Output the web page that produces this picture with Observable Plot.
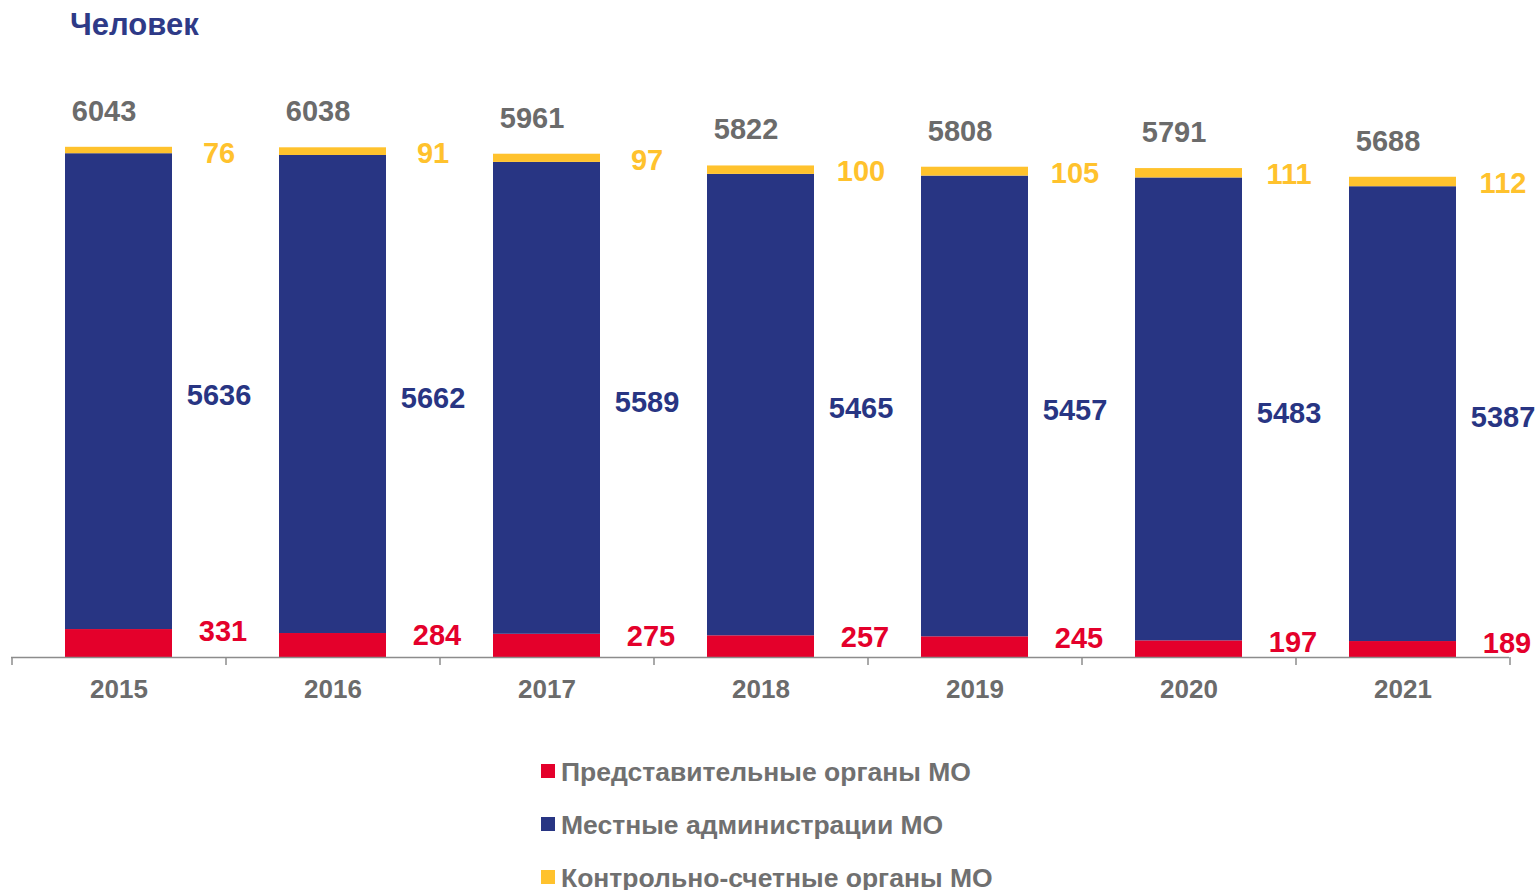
<!DOCTYPE html>
<html><head><meta charset="utf-8">
<script src="https://cdn.jsdelivr.net/npm/d3@7"></script>
<script src="https://cdn.jsdelivr.net/npm/@observablehq/plot@0.6"></script>
<style>
html,body{margin:0;padding:0;background:#fff;overflow:hidden;font-family:"Liberation Sans",Arial,sans-serif;}
#title{height:50px;padding-left:70px;font-weight:bold;font-size:31px;color:#2E3A87;line-height:50px;}
#chart svg{display:block;}
#legend{padding-top:26px;padding-left:541px;}
.item{height:53px;line-height:53px;font-weight:bold;font-size:26.5px;color:#707070;white-space:nowrap;}
.sw{display:inline-block;width:14px;height:14px;margin-right:6px;vertical-align:middle;position:relative;top:-3px;}
</style></head><body>
<div id="title">Человек</div>
<div id="chart"></div>
<div id="legend"></div>
<script>
const years = ["2015","2016","2017","2018","2019","2020","2021"];
const series = ["Представительные органы МО","Местные администрации МО","Контрольно-счетные органы МО"];
const colors = ["#E4002B","#283583","#FFC22D"];
const representative = [331,284,275,257,245,197,189];
const administrations = [5636,5662,5589,5465,5457,5483,5387];
const audit = [76,91,97,100,105,111,112];
const totals = [6043,6038,5961,5822,5808,5791,5688];

const W = 1537, H = 670, mt = 16, mb = 63, ml = 11, mr = 28;
const yMax = 7000;
const step = (W - ml - mr) / years.length;
const unitsPerPx = yMax / (H - mt - mb);

const rows = [];
years.forEach((y, i) => {
  rows.push({year: y, series: series[0], value: representative[i]});
  rows.push({year: y, series: series[1], value: administrations[i]});
  rows.push({year: y, series: series[2], value: audit[i]});
});
const lab = years.map((y, i) => ({
  year: y, rep: representative[i], adm: administrations[i], aud: audit[i], total: totals[i],
  admMid: representative[i] + administrations[i] / 2,
  top: representative[i] + administrations[i] + audit[i]
}));

const font = {fontSize: 29, fontWeight: "bold"};
const chart = Plot.plot({
  width: W, height: H,
  marginTop: mt, marginBottom: mb, marginLeft: ml, marginRight: mr,
  style: {fontFamily: "Liberation Sans, Arial, sans-serif", background: "#fff", color: "#6b6b6b"},
  x: {domain: years, paddingInner: 0.5, paddingOuter: 0.25, label: null},
  y: {domain: [0, yMax], axis: null},
  color: {domain: series, range: colors},
  marks: [
    Plot.barY(rows, {x: "year", y: "value", fill: "series", order: series}),
    Plot.ruleY([0], {stroke: "#8c8c8c", strokeWidth: 1.5}),
    Plot.ruleX(years, {x: d => d, y1: 0, y2: -8 * unitsPerPx, dx: -step / 2, stroke: "#8c8c8c", strokeWidth: 1.5}),
    Plot.ruleX([years[years.length - 1]], {x: d => d, y1: 0, y2: -8 * unitsPerPx, dx: step / 2, stroke: "#8c8c8c", strokeWidth: 1.5}),
    Plot.axisX({tickSize: 0, tickPadding: 22, fontSize: 26, fontWeight: "bold", fill: "#6b6b6b", label: null}),
    Plot.text(lab, {x: "year", y: "top", text: d => String(d.total), dx: -15, dy: -36, fill: "#6b6b6b", ...font}),
    Plot.text(lab, {x: "year", y: "top", text: d => String(d.aud), dx: 100, dy: 6, fill: "#FFC22D", ...font}),
    Plot.text(lab, {x: "year", y: "admMid", text: d => String(d.adm), dx: 100, dy: 4, fill: "#283583", ...font}),
    Plot.text(lab, {x: "year", y: "rep", text: d => String(d.rep), dx: 104, dy: 2, fill: "#E4002B", ...font})
  ]
});
document.getElementById("chart").appendChild(chart);

const legend = document.getElementById("legend");
series.forEach((s, i) => {
  const d = document.createElement("div");
  d.className = "item";
  const sw = document.createElement("span");
  sw.className = "sw";
  sw.style.background = colors[i];
  d.appendChild(sw);
  d.appendChild(document.createTextNode(s));
  legend.appendChild(d);
});
</script>
</body></html>
